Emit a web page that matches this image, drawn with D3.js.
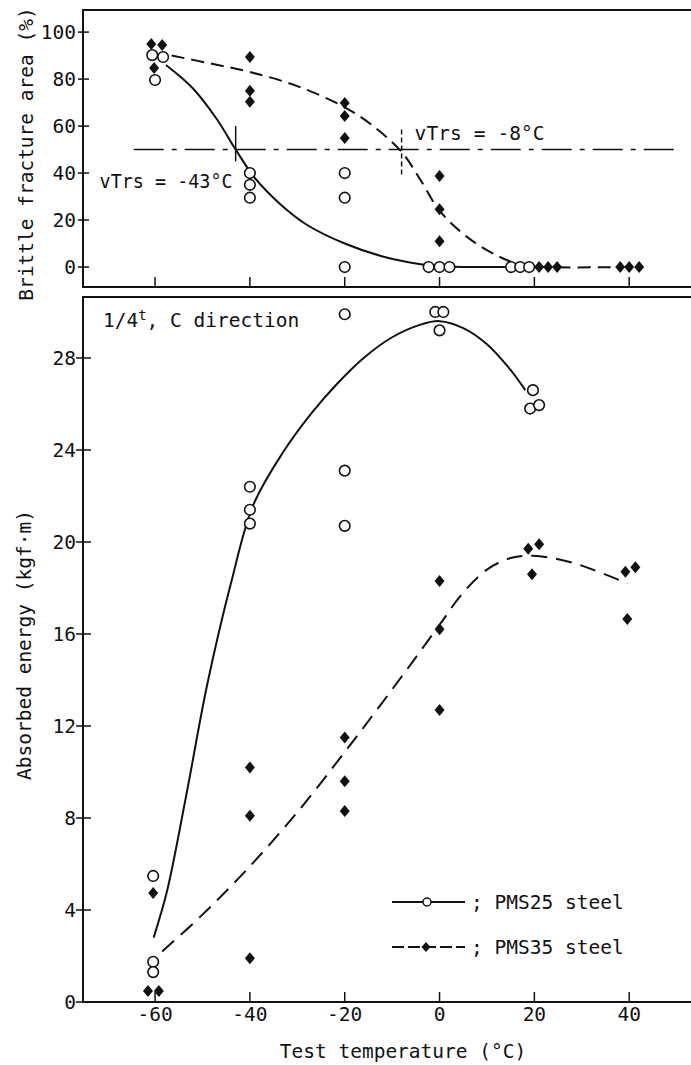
<!DOCTYPE html>
<html><head><meta charset="utf-8">
<script src="https://cdn.jsdelivr.net/npm/d3@7"></script>
<style>
body{margin:0;background:#fff}
text{font-family:"DejaVu Sans Mono","Liberation Mono",monospace;fill:#111}
</style>
</head><body>
<svg id="c" width="691" height="1065"></svg>
<script>
// ---------- data ----------
const xTicks = [-60, -40, -20, 0, 20, 40];
const brittleTicks = [0, 20, 40, 60, 80, 100];
const energyTicks = [0, 4, 8, 12, 16, 20, 24, 28];

// Brittle fracture area (%) : [temperature, value]
const brittlePMS25 = [[-60.6,90.2],[-58.3,89.4],[-60,79.6],[-40,40],[-40,35],[-40,29.5],
  [-20,40],[-20,29.5],[-20,0],[-2.3,0],[0,0],[2.1,0],[15.1,0],[17,0],[18.9,0]];
const brittlePMS35 = [[-60.8,94.9],[-58.5,94.5],[-60.2,84.7],[-40,89.4],[-40,75],[-40,70.4],
  [-20,69.8],[-20,64.3],[-20,54.9],[0,38.7],[0,24.6],[0,11],[21,0],[22.9,0],[24.8,0],
  [38.1,0],[40,0],[42.1,0]];
const brittleCurve25 = [[-57.7,86],[-52,76],[-47,63],[-43,50],[-39,38],[-34,27.5],[-28,18],
  [-20,10],[-12,4.5],[-4,1.2],[0,0.3],[15,0]];
const brittleCurve35 = [[-56.5,90],[-48,86.5],[-40,83],[-30,77],[-20,68],[-14,60],[-8,49],
  [-4,37],[0,24],[6,12.5],[12,5],[17,1],[22,0],[38,0]];

// Absorbed energy (kgf·m)
const energyPMS25 = [[-60.4,5.48],[-60.4,1.75],[-60.4,1.3],[-40,22.4],[-40,21.4],[-40,20.8],
  [-20,29.9],[-20,23.1],[-20,20.7],[-0.9,30.0],[0.8,30.0],[0,29.2],[19.7,26.6],[19.1,25.8],[21,25.95]];
const energyPMS35 = [[-60.4,4.74],[-61.5,0.48],[-59.2,0.48],[-40,10.2],[-40,8.1],[-40,1.9],
  [-20,11.5],[-20,9.6],[-20,8.3],[0,18.3],[0,16.2],[0,12.7],[18.7,19.7],[21,19.9],[19.5,18.6],
  [39.2,18.7],[41.3,18.9],[39.6,16.65]];
const energyCurve25 = [[-60.3,2.8],[-57.5,4.8],[-53.5,8.9],[-49,13.8],[-44,18.2],[-39.3,21.6],
  [-33,23.9],[-27,25.6],[-21.5,26.9],[-16,28.0],[-10,28.9],[-4,29.45],[0,29.6],[5,29.3],
  [10,28.6],[14.5,27.6],[18.1,26.6]];
const energyCurve35 = [[-58.5,2.2],[-50.5,3.7],[-40,5.9],[-29.4,8.4],[-19.5,11.0],[-12.5,12.9],
  [-6,14.7],[0,16.4],[5,17.8],[10,18.8],[15,19.3],[19.7,19.4],[28,19.1],[39.6,18.2]];

const vTrs25 = -43, vTrs35 = -8;

// ---------- layout ----------
const svg = d3.select("#c");
const x = d3.scaleLinear().domain([-75.2, 57]).range([83, 709.8]);
const yTop = d3.scaleLinear().domain([-8.5, 109.4]).range([287, 10]);
const yBot = d3.scaleLinear().domain([0, 30.65]).range([1002, 297]);
const FS = 19.5;

function frame(y) {
  const [b, t] = y.range();
  const x0 = x.range()[0], x1 = x.range()[1];
  svg.append("path").attr("d", `M${x1},${t}H${x0}V${b}H${x1}`)
    .attr("fill", "none").attr("stroke", "#111").attr("stroke-width", 2);
}
frame(yTop); frame(yBot);

function xTickMarks(y, len) {
  const b = y.range()[0];
  svg.append("g").selectAll("line").data(xTicks).join("line")
    .attr("x1", d => x(d)).attr("x2", d => x(d)).attr("y1", b).attr("y2", b - len)
    .attr("stroke", "#111").attr("stroke-width", 1.5);
}
xTickMarks(yTop, 10); xTickMarks(yBot, 10);

function yAxis(y, ticks, out, inn) {
  const x0 = x.range()[0];
  const g = svg.append("g");
  g.selectAll("line").data(ticks).join("line")
    .attr("x1", x0 - out).attr("x2", x0 + inn).attr("y1", d => y(d)).attr("y2", d => y(d))
    .attr("stroke", "#111").attr("stroke-width", 1.5);
  g.selectAll("text").data(ticks).join("text")
    .attr("x", x0 - 7).attr("y", d => y(d)).attr("dy", "0.36em")
    .attr("text-anchor", "end").attr("font-size", FS).text(d => d);
}
yAxis(yTop, brittleTicks, 5, 6);
yAxis(yBot, energyTicks, 7, 8);

// x tick labels
svg.append("g").selectAll("text").data(xTicks).join("text")
  .attr("x", d => x(d)).attr("y", 1021).attr("text-anchor", "middle")
  .attr("font-size", FS).text(d => d);

// axis titles
svg.append("text").attr("x", 403).attr("y", 1058).attr("text-anchor", "middle")
  .attr("font-size", FS).text("Test temperature (°C)");
svg.append("text").attr("transform", "translate(33,154) rotate(-90)")
  .attr("text-anchor", "middle").attr("font-size", FS).text("Brittle fracture area (%)");
svg.append("text").attr("transform", "translate(31,645) rotate(-90)")
  .attr("text-anchor", "middle").attr("font-size", FS).text("Absorbed energy (kgf·m)");

// ---------- top panel annotations ----------
svg.append("line").attr("x1", x(-64.5)).attr("x2", x(50.5)).attr("y1", yTop(50)).attr("y2", yTop(50))
  .attr("stroke", "#111").attr("stroke-width", 1.5).attr("stroke-dasharray", "30,8,5,8");
svg.append("line").attr("x1", x(vTrs25)).attr("x2", x(vTrs25)).attr("y1", yTop(60)).attr("y2", yTop(45))
  .attr("stroke", "#111").attr("stroke-width", 1.5);
svg.append("line").attr("x1", x(vTrs35)).attr("x2", x(vTrs35)).attr("y1", yTop(58.5)).attr("y2", yTop(38.5))
  .attr("stroke", "#111").attr("stroke-width", 1.5).attr("stroke-dasharray", "5,3");
svg.append("text").attr("x", x(-71.7)).attr("y", yTop(50) + 38).attr("font-size", FS)
  .attr("textLength", 133).attr("lengthAdjust", "spacingAndGlyphs").text("vTrs = -43°C");
svg.append("text").attr("x", x(vTrs35) + 13).attr("y", yTop(50) - 10).attr("font-size", FS)
  .attr("textLength", 130).attr("lengthAdjust", "spacing").text("vTrs = -8°C");

// ---------- curves ----------
function curve(data, y, dash) {
  const line = d3.line().x(d => x(d[0])).y(d => y(d[1])).curve(d3.curveCatmullRom.alpha(0.5));
  svg.append("path").datum(data).attr("d", line).attr("fill", "none")
    .attr("stroke", "#111").attr("stroke-width", 2).attr("stroke-dasharray", dash);
}
curve(brittleCurve25, yTop, null);
curve(brittleCurve35, yTop, "13,7");
curve(energyCurve25, yBot, null);
curve(energyCurve35, yBot, "16,9");

// ---------- markers ----------
const diamond = (cx, cy, h, w) => `M${cx},${cy - h}L${cx + w},${cy}L${cx},${cy + h}L${cx - w},${cy}Z`;
function circles(data, y, r) {
  svg.append("g").selectAll("circle").data(data).join("circle")
    .attr("cx", d => x(d[0])).attr("cy", d => y(d[1])).attr("r", r)
    .attr("fill", "#fff").attr("stroke", "#111").attr("stroke-width", 1.6);
}
function diamonds(data, y, h, w) {
  svg.append("g").selectAll("path").data(data).join("path")
    .attr("d", d => diamond(x(d[0]), y(d[1]), h, w)).attr("fill", "#111");
}
diamonds(brittlePMS35, yTop, 6, 5);
circles(brittlePMS25, yTop, 5.3);
diamonds(energyPMS35, yBot, 6, 5);
circles(energyPMS25, yBot, 5.3);

// ---------- inner label ----------
const lab = svg.append("text").attr("x", x(-71)).attr("y", 327).attr("font-size", FS);
lab.append("tspan").text("1/4");
lab.append("tspan").attr("font-size", 14).attr("dy", -7).text("t");
lab.append("tspan").attr("dy", 7).text(", C direction");

// ---------- legend ----------
const legend = [
  {name: "; PMS25 steel", dash: null, mark: "circle", y: 902},
  {name: "; PMS35 steel", dash: "12,4", mark: "diamond", y: 947}
];
legend.forEach(l => {
  svg.append("line").attr("x1", 392).attr("x2", 465).attr("y1", l.y).attr("y2", l.y)
    .attr("stroke", "#111").attr("stroke-width", 2).attr("stroke-dasharray", l.dash);
  if (l.mark === "circle")
    svg.append("circle").attr("cx", 427).attr("cy", l.y).attr("r", 4)
      .attr("fill", "#fff").attr("stroke", "#111").attr("stroke-width", 1.5);
  else
    svg.append("path").attr("d", diamond(426, l.y, 5, 4.5)).attr("fill", "#111");
  svg.append("text").attr("x", 471).attr("y", l.y + 7).attr("font-size", FS).text(l.name);
});
</script>
</body></html>
